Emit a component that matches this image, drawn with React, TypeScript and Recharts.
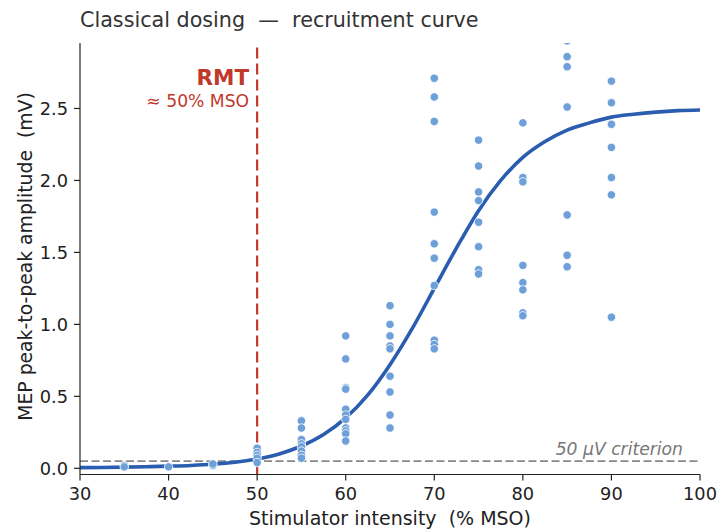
import { ComposedChart, Scatter, Line, XAxis, YAxis, ReferenceLine } from 'recharts';

// recruitment curve, classical dosing
const intensityLevels = [35, 40, 45, 50, 55, 60, 65, 70, 75, 80, 85, 90];
const mepByLevel: number[][] = [
    [0.02, 0.01],
    [0.01],
    [0.02, 0.03],
    [0.14, 0.11, 0.09, 0.07, 0.04],
    [0.33, 0.28, 0.2, 0.17, 0.15, 0.12, 0.09, 0.07],
    [0.92, 0.76, 0.56, 0.55, 0.41, 0.37, 0.34, 0.28, 0.26, 0.24, 0.19],
    [1.13, 1.0, 0.92, 0.85, 0.83, 0.64, 0.53, 0.37, 0.28],
    [2.71, 2.58, 2.41, 1.78, 1.56, 1.46, 1.27, 0.89, 0.86, 0.83],
    [2.28, 2.1, 1.92, 1.86, 1.71, 1.54, 1.38, 1.35],
    [2.4, 2.02, 1.99, 1.41, 1.29, 1.24, 1.08, 1.06],
    [2.97, 2.86, 2.79, 2.51, 1.76, 1.48, 1.4],
    [2.69, 2.54, 2.39, 2.23, 2.02, 1.9, 1.05],
];

const curveX = [30, 32.5, 35, 37.5, 40, 42.5, 45, 47.5, 50, 52.5, 55, 57.5, 60, 62.5, 65, 67.5, 70, 72.5, 75, 77.5, 80, 82.5, 85, 87.5, 90, 92.5, 95, 97.5, 100];
const curveY = [0.005, 0.006, 0.008, 0.011, 0.015, 0.02, 0.028, 0.042, 0.065, 0.1, 0.155, 0.235, 0.35, 0.51, 0.72, 0.97, 1.25, 1.53, 1.79, 2.0, 2.16, 2.27, 2.35, 2.4, 2.44, 2.46, 2.475, 2.485, 2.49];

const xTicks = [30, 40, 50, 60, 70, 80, 90, 100];
const yTicks = [0, 0.5, 1.0, 1.5, 2.0, 2.5];

const RMT = 50;
const CRITERION = 0.05;

const FONT = 'DejaVu Sans, sans-serif';
const RED = '#c0392b';
const INK = '#222';

const points = intensityLevels.flatMap((x, i) => mepByLevel[i].map((y) => ({ x, y })));
const curve = curveX.map((x, i) => ({ x, y: curveY[i] }));

const Dot = (props: any) => (
    <circle cx={props.cx} cy={props.cy} r={4.2} fill="#6d9fd9" stroke="#ffffff" strokeWidth={0.8} />
);

export default function App() {
    return (
        <div style={{ position: 'absolute', left: 0, top: 0, width: 717, height: 532, background: '#fff', fontFamily: FONT }}>
            <div style={{ position: 'absolute', left: 80, top: 8, fontSize: 20.7, color: '#333', whiteSpace: 'pre', lineHeight: 'normal' }}>
                {'Classical dosing  —  recruitment curve'}
            </div>
            <ComposedChart width={717} height={532} margin={{ top: 43, right: 17, bottom: 0, left: 0 }}>
                <XAxis
                    type="number"
                    dataKey="x"
                    domain={[30, 100]}
                    ticks={xTicks}
                    allowDataOverflow
                    height={57.5}
                    stroke={INK}
                    strokeWidth={1.2}
                    tickSize={6}
                    tickMargin={7}
                    tick={{ fill: INK, fontSize: 17.8, fontFamily: FONT }}
                    label={() => (
                        <text x={390} y={525} textAnchor="middle" fill={INK} fontSize={19} fontFamily={FONT} style={{ whiteSpace: 'pre' }}>
                            {'Stimulator intensity  (% MSO)'}
                        </text>
                    )}
                />
                <YAxis
                    type="number"
                    dataKey="y"
                    domain={[-0.043, 2.955]}
                    ticks={yTicks}
                    allowDataOverflow
                    width={80}
                    stroke={INK}
                    strokeWidth={1.2}
                    tickSize={6}
                    tickMargin={6}
                    tickFormatter={(v: number) => v.toFixed(1)}
                    tick={{ fill: INK, fontSize: 17.8, fontFamily: FONT }}
                    label={() => (
                        <text x={32} y={256.5} transform="rotate(-90 32 256.5)" textAnchor="middle" fill={INK} fontSize={18.8} fontFamily={FONT} style={{ whiteSpace: 'pre' }}>
                            {'MEP peak-to-peak amplitude  (mV)'}
                        </text>
                    )}
                />
                <ReferenceLine
                    y={CRITERION}
                    stroke="#888"
                    strokeWidth={1.8}
                    strokeDasharray="8 3.5"
                    label={(p: any) => (
                        <text x={p.viewBox.x + p.viewBox.width - 17} y={p.viewBox.y - 6.5} textAnchor="end" fill="#777" fontSize={17.2} fontStyle="italic" fontFamily={FONT}>
                            50 µV criterion
                        </text>
                    )}
                />
                <Scatter data={points} dataKey="y" shape={Dot} isAnimationActive={false} />
                <Line data={curve} dataKey="y" type="monotone" stroke="#2a5daf" strokeWidth={3.6} dot={false} activeDot={false} isAnimationActive={false} />
                <ReferenceLine
                    x={RMT}
                    stroke={RED}
                    strokeWidth={2.2}
                    strokeDasharray="11 5"
                    label={(p: any) => (
                        <g>
                            <text x={p.viewBox.x - 8} y={p.viewBox.y + 42} textAnchor="end" fill={RED} fontSize={21.5} fontWeight="bold" fontFamily={FONT}>
                                RMT
                            </text>
                            <text x={p.viewBox.x - 8} y={p.viewBox.y + 64} textAnchor="end" fill={RED} fontSize={17.2} fontFamily={FONT}>
                                ≈ 50% MSO
                            </text>
                        </g>
                    )}
                />
            </ComposedChart>
        </div>
    );
}
